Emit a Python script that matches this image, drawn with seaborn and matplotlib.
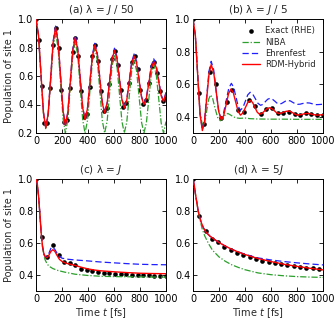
import numpy as np
import pandas as pd
import matplotlib
matplotlib.use("Agg")
import matplotlib.pyplot as plt
import seaborn as sns

# ---------------- data ----------------
# Panel (a)  lambda = J/50
a_t_curve = [0, 19, 38, 57, 75, 94, 113, 132, 151, 170, 189, 208, 226, 245, 264, 283, 302,
             321, 340, 359, 377, 396, 415, 434, 453, 472, 491, 510, 528, 547, 566, 585, 604,
             623, 642, 661, 679, 698, 717, 736, 755, 774, 793, 812, 830, 849, 868, 887, 906,
             925, 944, 963, 981, 1000]
a_rdm = [1.0, 0.888, 0.618, 0.347, 0.235, 0.338, 0.588, 0.837, 0.94, 0.840, 0.597, 0.355, 0.254,
         0.344, 0.562, 0.780, 0.87, 0.786, 0.582, 0.378, 0.294, 0.371, 0.556, 0.740, 0.817,
         0.747, 0.579, 0.410, 0.34, 0.405, 0.56, 0.716, 0.78, 0.721, 0.578, 0.434, 0.375,
         0.429, 0.558, 0.687, 0.74, 0.690, 0.57, 0.45, 0.40, 0.444, 0.55, 0.656, 0.70,
         0.659, 0.56, 0.461, 0.42, 0.48]
a_ehr = [1.0, 0.888, 0.618, 0.347, 0.235, 0.340, 0.593, 0.845, 0.95, 0.848, 0.603, 0.358, 0.256,
         0.348, 0.571, 0.793, 0.885, 0.799, 0.591, 0.383, 0.297, 0.375, 0.564, 0.752, 0.83,
         0.759, 0.588, 0.416, 0.345, 0.411, 0.57, 0.729, 0.795, 0.734, 0.588, 0.441, 0.38,
         0.435, 0.568, 0.70, 0.755, 0.704, 0.58, 0.456, 0.405, 0.451, 0.563, 0.674, 0.72,
         0.677, 0.573, 0.468, 0.425, 0.485]
a_niba = [1.0, 0.887, 0.613, 0.339, 0.225, 0.324, 0.563, 0.801, 0.90, 0.797, 0.55, 0.303, 0.20,
          0.294, 0.52, 0.746, 0.84, 0.746, 0.52, 0.294, 0.20, 0.287, 0.498, 0.708, 0.795,
          0.708, 0.498, 0.287, 0.20, 0.281, 0.475, 0.669, 0.75, 0.669, 0.475, 0.281, 0.20,
          0.275, 0.455, 0.635, 0.71, 0.635, 0.455, 0.275, 0.20, 0.270, 0.44, 0.61, 0.68,
          0.61, 0.44, 0.27, 0.20, 0.28]
a_t_exact = [0, 21.7, 43.4, 65.1, 86.8, 108.5, 130.2, 151.9, 173.6, 195.3, 217.0, 238.7, 260.4,
             282.1, 303.8, 325.5, 347.2, 368.9, 390.6, 412.3, 434.0, 455.7, 477.4, 499.1, 520.8,
             542.5, 564.2, 585.9, 607.6, 629.3, 651.0, 672.7, 694.4, 716.1, 737.8, 759.5, 781.2,
             802.9, 824.6, 846.3, 868.0, 889.7, 911.4, 933.1, 954.8, 976.5, 998.2]
a_exact = [1.0, 0.854, 0.528, 0.270, 0.273, 0.518, 0.816, 0.940, 0.799, 0.504, 0.280, 0.293,
           0.513, 0.771, 0.869, 0.743, 0.494, 0.312, 0.332, 0.524, 0.740, 0.815, 0.704, 0.497,
           0.352, 0.377, 0.542, 0.721, 0.778, 0.677, 0.501, 0.383, 0.409, 0.549, 0.696, 0.737,
           0.648, 0.500, 0.405, 0.432, 0.549, 0.667, 0.696, 0.620, 0.497, 0.423, 0.449]

# Panel (b)  lambda = J/5
b_t_rdm = [0, 18, 36, 54, 72, 89, 106, 123, 140, 159.5, 179, 198.5, 218, 236.5, 255, 273.5, 292,
           310, 328.5, 347, 365, 384, 402.5, 421, 440, 458, 476, 494, 512, 531, 550, 569, 588,
           606, 624, 642, 660, 679, 697.5, 716, 735, 752.5, 770, 787.5, 805, 824, 842.5, 861,
           880, 897.5, 915, 932.5, 950, 975, 1000]
b_rdm = [1.0, 0.900, 0.658, 0.415, 0.315, 0.374, 0.518, 0.661, 0.72, 0.670, 0.55, 0.430, 0.38,
         0.408, 0.475, 0.542, 0.57, 0.547, 0.49, 0.433, 0.41, 0.423, 0.455, 0.487, 0.50,
         0.488, 0.458, 0.428, 0.415, 0.421, 0.435, 0.449, 0.455, 0.450, 0.438, 0.425, 0.42,
         0.422, 0.428, 0.433, 0.435, 0.431, 0.423, 0.414, 0.41, 0.412, 0.415, 0.419, 0.42,
         0.419, 0.415, 0.412, 0.41, 0.411, 0.412]
b_t_ehr = [0, 18, 36, 54, 72, 89, 106, 123, 140, 159, 177.5, 196, 215, 235, 255, 275, 295,
           312.5, 330, 347.5, 365, 384, 402.5, 421, 440, 460, 480, 500, 520, 538, 556, 574, 592,
           610, 628.5, 647, 665, 681, 697.5, 714, 730, 749, 767.5, 786, 805, 824, 842.5, 861,
           880, 897.5, 915, 932.5, 950, 975, 1000]
b_ehr = [1.0, 0.900, 0.66, 0.420, 0.32, 0.382, 0.53, 0.679, 0.74, 0.689, 0.565, 0.441, 0.39,
         0.422, 0.498, 0.574, 0.605, 0.581, 0.523, 0.464, 0.44, 0.456, 0.495, 0.534, 0.55,
         0.538, 0.51, 0.482, 0.47, 0.476, 0.492, 0.507, 0.513, 0.508, 0.496, 0.483, 0.478,
         0.481, 0.489, 0.497, 0.50, 0.497, 0.488, 0.480, 0.476, 0.477, 0.481, 0.484, 0.485,
         0.484, 0.480, 0.476, 0.474, 0.475, 0.477]
b_t_niba = [0, 18, 36, 54, 75, 92, 108, 122, 136, 152, 170, 190, 210, 230, 250, 268, 290, 310,
            330, 360, 400, 440, 500, 600, 700, 800, 900, 1000]
b_niba = [1.0, 0.90, 0.66, 0.43, 0.335, 0.37, 0.45, 0.51, 0.534, 0.51, 0.45, 0.395, 0.375,
          0.39, 0.413, 0.42, 0.41, 0.40, 0.393, 0.39, 0.392, 0.388, 0.386, 0.385, 0.385,
          0.384, 0.384, 0.384]
b_t_exact = [0, 43.4, 86.8, 130.2, 173.6, 217.0, 260.4, 303.8, 347.2, 390.6, 434.0, 477.4,
             520.8, 564.2, 607.6, 651.0, 694.4, 737.8, 781.2, 824.6, 868.0, 911.4, 954.8, 998.2]
b_exact = [1.0, 0.544, 0.354, 0.677, 0.60, 0.39, 0.493, 0.565, 0.44, 0.427, 0.50, 0.466,
           0.417, 0.448, 0.452, 0.42, 0.42, 0.43, 0.417, 0.412, 0.42, 0.417, 0.41, 0.41]

# Panel (c)  lambda = J
c_t_rdm = [0, 10, 20, 30, 40, 50, 60, 70, 80, 90, 100, 115, 130, 145, 160, 180, 200, 230, 260,
           300, 350, 400, 450, 500, 600, 700, 800, 900, 1000]
c_rdm = [1.0, 0.97, 0.89, 0.78, 0.66, 0.58, 0.535, 0.515, 0.508, 0.512, 0.525, 0.548, 0.558,
         0.548, 0.525, 0.498, 0.485, 0.474, 0.468, 0.460, 0.448, 0.438, 0.431, 0.426, 0.42,
         0.415, 0.411, 0.409, 0.408]
c_t_ehr = [0, 10, 20, 30, 40, 50, 60, 70, 80, 90, 100, 114, 128, 145, 170, 200, 250, 300, 400,
           500, 600, 700, 800, 900, 1000]
c_ehr = [1.0, 0.97, 0.89, 0.78, 0.66, 0.58, 0.535, 0.515, 0.51, 0.518, 0.537, 0.566, 0.575,
         0.56, 0.525, 0.505, 0.498, 0.494, 0.488, 0.481, 0.476, 0.471, 0.467, 0.465, 0.464]
c_t_niba = [0, 10, 20, 30, 40, 50, 60, 70, 85, 100, 130, 170, 220, 300, 400, 500, 600, 700,
            800, 900, 1000]
c_niba = [1.0, 0.97, 0.89, 0.78, 0.66, 0.575, 0.525, 0.495, 0.47, 0.455, 0.44, 0.428, 0.418,
          0.405, 0.397, 0.392, 0.390, 0.389, 0.388, 0.387, 0.387]
c_t_exact = b_t_exact
c_exact = [1.0, 0.638, 0.514, 0.586, 0.524, 0.48, 0.472, 0.462, 0.44, 0.432, 0.425, 0.42,
           0.415, 0.412, 0.409, 0.406, 0.404, 0.402, 0.40, 0.399, 0.397, 0.396, 0.395, 0.394]

# Panel (d)  lambda = 5J
d_t_rdm = [0, 10, 20, 30, 40, 50, 65, 80, 100, 130, 160, 200, 250, 300, 350, 400, 450, 500,
           600, 700, 800, 900, 1000]
d_rdm = [1.0, 0.96, 0.90, 0.85, 0.80, 0.765, 0.725, 0.695, 0.668, 0.643, 0.625, 0.603, 0.58,
         0.56, 0.543, 0.528, 0.515, 0.503, 0.484, 0.467, 0.454, 0.442, 0.432]
d_t_ehr = [0, 10, 20, 30, 40, 50, 65, 80, 100, 130, 160, 200, 250, 300, 350, 400, 450, 500,
           600, 700, 800, 900, 1000]
d_ehr = [1.0, 0.96, 0.90, 0.85, 0.80, 0.765, 0.725, 0.695, 0.668, 0.643, 0.625, 0.603, 0.58,
         0.56, 0.544, 0.530, 0.518, 0.507, 0.494, 0.484, 0.476, 0.469, 0.463]
d_t_niba = [0, 20, 40, 50, 70, 90, 120, 150, 200, 250, 300, 350, 400, 500, 600, 700, 800, 900,
            1000]
d_niba = [1.0, 0.90, 0.80, 0.76, 0.69, 0.645, 0.595, 0.555, 0.513, 0.485, 0.463, 0.447, 0.433,
          0.413, 0.402, 0.395, 0.39, 0.387, 0.385]
d_t_exact = [0, 48.4, 96.8, 145.2, 193.6, 242.0, 290.4, 338.8, 387.2, 435.6, 484.0, 532.4,
             580.8, 629.2, 677.6, 726.0, 774.4, 822.8, 871.2, 919.6, 968.0]
d_exact = [1.0, 0.77, 0.673, 0.627, 0.604, 0.576, 0.555, 0.536, 0.524, 0.513, 0.503, 0.49,
           0.482, 0.475, 0.468, 0.462, 0.457, 0.451, 0.446, 0.441, 0.436]

titles = [r"(a) λ = $J$ / 50", r"(b) λ = $J$ / 5", r"(c) λ = $J$", r"(d) λ = 5$J$"]
labels = ["Exact (RHE)", "NIBA", "Ehrenfest", "RDM-Hybrid"]
xticks = [0, 200, 400, 600, 800, 1000]

# ---------------- plotting ----------------
sns.set_style("ticks")
plt.rcParams["font.family"] = ["DejaVu Sans"]
plt.rcParams["mathtext.fontset"] = "dejavusans"
plt.rcParams["xtick.direction"] = "in"
plt.rcParams["ytick.direction"] = "in"

fig = plt.figure(figsize=(3.36, 3.26), dpi=100)
W, H = 336, 326
boxes = [(36, 19, 166, 133), (193, 19, 323, 133), (36, 179, 166, 291), (193, 179, 323, 291)]
axes = [fig.add_axes([l / W, 1 - b / H, (r - l) / W, (b - t) / H]) for (l, t, r, b) in boxes]

panels = [
    (a_t_exact, a_exact, a_t_curve, a_niba, a_t_curve, a_ehr, a_t_curve, a_rdm, (0.2, 1.0),
     [0.2, 0.4, 0.6, 0.8, 1.0]),
    (b_t_exact, b_exact, b_t_niba, b_niba, b_t_ehr, b_ehr, b_t_rdm, b_rdm, (0.3, 1.0),
     [0.4, 0.6, 0.8, 1.0]),
    (c_t_exact, c_exact, c_t_niba, c_niba, c_t_ehr, c_ehr, c_t_rdm, c_rdm, (0.3, 1.0),
     [0.4, 0.6, 0.8, 1.0]),
    (d_t_exact, d_exact, d_t_niba, d_niba, d_t_ehr, d_ehr, d_t_rdm, d_rdm, (0.3, 1.0),
     [0.4, 0.6, 0.8, 1.0]),
]

fs = 7
for i, (ax, p) in enumerate(zip(axes, panels)):
    te, ye, tn, yn, tE, yE, tr, yr, ylim, yt = p
    sns.scatterplot(x=te, y=ye, ax=ax, color="black", s=11, linewidth=0, zorder=2,
                    label=labels[0])
    sns.lineplot(x=tn, y=yn, ax=ax, color="#2ca02c", lw=0.9, ls=(0, (5, 1.5, 1, 1.5)),
                 estimator=None, sort=False, zorder=3, label=labels[1])
    sns.lineplot(x=tE, y=yE, ax=ax, color="#1f1fff", lw=0.9, ls=(0, (5, 2.5)),
                 estimator=None, sort=False, zorder=3, label=labels[2])
    sns.lineplot(x=tr, y=yr, ax=ax, color="#ff0000", lw=1.0, estimator=None, sort=False,
                 zorder=4, label=labels[3])
    ax.set_xlim(0, 1000)
    ax.set_ylim(*ylim)
    ax.set_xticks(xticks)
    ax.set_yticks(yt)
    ax.tick_params(labelsize=fs, length=3, width=0.6, top=True, right=True, pad=2,
                   colors="black")
    for s in ax.spines.values():
        s.set_linewidth(0.7)
        s.set_color("black")
    ax.set_title(titles[i], fontsize=fs + 0.5, pad=4)
    ax.set_xlabel("Time $t$ [fs]" if i >= 2 else "", fontsize=fs, labelpad=2)
    ax.set_ylabel("Population of site 1" if i % 2 == 0 else "", fontsize=fs, labelpad=3)
    if i == 1:
        ax.legend(loc="upper right", frameon=False, fontsize=6, handlelength=2.2,
                  labelspacing=0.25, borderaxespad=0.5, handletextpad=0.6, markerscale=1.0)
    else:
        leg = ax.get_legend()
        if leg is not None:
            leg.remove()

fig.savefig("out.png", dpi=100)
